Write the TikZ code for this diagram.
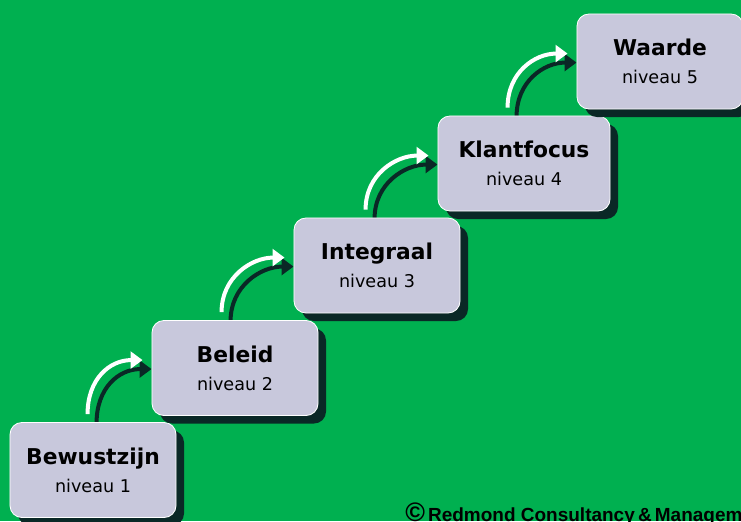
\documentclass[tikz,border=0pt]{standalone}
\usepackage{fontspec}
\setmainfont{DejaVu Sans}
\newfontfamily\arialfont{Liberation Sans}
\usetikzlibrary{calc,arrows.meta,shadows,backgrounds}
\definecolor{veld}{RGB}{0,176,80}
\definecolor{blok}{RGB}{200,200,220}
\definecolor{schaduw}{RGB}{10,40,38}
\begin{document}
\begin{tikzpicture}[x=0.025cm,y=-0.025cm,
  stap/.style={draw=white,line width=0.6pt,fill=blok,rounded corners=0.3cm,
    minimum width=4.15cm,minimum height=2.375cm,align=center,inner sep=0pt,
    font=\fontsize{12.5}{20}\selectfont,
    drop shadow={shadow xshift=0.2cm,shadow yshift=-0.2cm,opacity=1,fill=schaduw}},
  pijl/.style={line width=1mm,-{Triangle[length=3mm,width=4.2mm]}}]
\begin{pgfonlayer}{background}
\fill[veld](0,0)rectangle(741,521);
\end{pgfonlayer}
\useasboundingbox(0,0)rectangle(741,521);
% treden
\node[stap](b1)at(93,470){{\bfseries\fontsize{15.5}{20}\selectfont Bewustzijn}\\niveau 1};
\node[stap](b2)at(235,368){{\bfseries\fontsize{15.5}{20}\selectfont Beleid}\\niveau 2};
\node[stap](b3)at(377,265.5){{\bfseries\fontsize{15.5}{20}\selectfont Integraal}\\niveau 3};
\node[stap,minimum width=4.3cm](b4)at(524,163.5){{\bfseries\fontsize{15.5}{20}\selectfont Klantfocus}\\niveau 4};
\node[stap](b5)at(660,61.5){{\bfseries\fontsize{15.5}{20}\selectfont Waarde}\\niveau 5};
% pijlen: de schaduw achter de treden, dan wit
\begin{pgfonlayer}{background}
\draw[pijl,schaduw]($(b1.north west)+(87,1)$)..controls +(0,-35) and +(-33,0)..($(b2.north west)+(0,49)$);
\draw[pijl,schaduw]($(b2.north west)+(79,1)$)..controls +(0,-35) and +(-33,0)..($(b3.north west)+(0,49)$);
\draw[pijl,schaduw]($(b3.north west)+(81,1)$)..controls +(0,-35) and +(-33,0)..($(b4.north west)+(0,49)$);
\draw[pijl,schaduw]($(b4.north west)+(79,1)$)..controls +(0,-35) and +(-33,0)..($(b5.north west)+(0,49)$);
\end{pgfonlayer}
\draw[pijl,white]($(b1.north west)+(78,-8)$)..controls +(0,-35) and +(-33,0)..($(b2.north west)+(-9,40)$);
\draw[pijl,white]($(b2.north west)+(70,-8)$)..controls +(0,-35) and +(-33,0)..($(b3.north west)+(-9,40)$);
\draw[pijl,white]($(b3.north west)+(72,-8)$)..controls +(0,-35) and +(-33,0)..($(b4.north west)+(-9,40)$);
\draw[pijl,white]($(b4.north west)+(70,-8)$)..controls +(0,-35) and +(-33,0)..($(b5.north west)+(-9,40)$);
\node[anchor=base west,inner sep=0pt,font=\arialfont\bfseries\fontsize{13.5}{14}\selectfont](copy)at(405,521)
  {{\fontsize{19}{19}\selectfont\textcopyright}\,Redmond Consultancy\,\&\,Managem};
\end{tikzpicture}
\end{document}
